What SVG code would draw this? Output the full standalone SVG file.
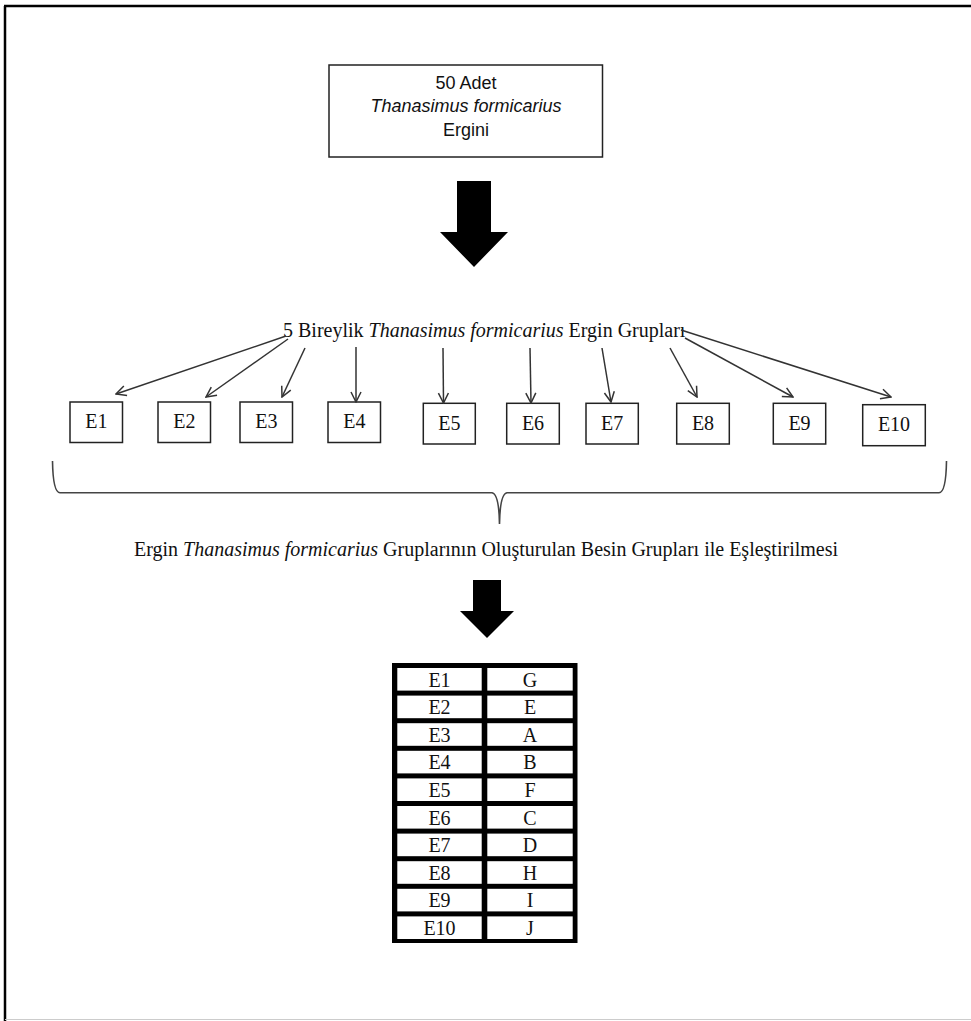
<svg xmlns="http://www.w3.org/2000/svg" width="971" height="1021" viewBox="0 0 971 1021">
<style>
.frame{fill:none;stroke:#000;stroke-width:2.5}
.box{fill:#fff;stroke:#222;stroke-width:1.5}
.sans{font-family:"Liberation Sans",Arial,sans-serif;font-size:18px;fill:#111;text-anchor:middle}
.serif{font-family:"Liberation Serif","Times New Roman",serif;font-size:20px;fill:#111}
.mid{text-anchor:middle}
.it{font-style:italic}
.conn{stroke:#333;stroke-width:1.5;fill:none;marker-end:url(#ah)}
.brace{stroke:#444;stroke-width:1.6;fill:none}
.cell{fill:#fff}
</style>
<defs>
<marker id="ah" viewBox="0 0 12 12" refX="11" refY="6" markerWidth="12" markerHeight="12" markerUnits="userSpaceOnUse" orient="auto">
<path d="M1,1 L11,6 L1,11" fill="none" stroke="#333" stroke-width="1.5"/>
</marker>
</defs>
<rect width="971" height="1021" fill="#fff"/>
<g id="frame">
<line x1="4" y1="6" x2="971" y2="6" class="frame"/>
<line x1="5" y1="6" x2="5" y2="1021" class="frame"/>
<line x1="5" y1="1019.5" x2="971" y2="1019.5" stroke="#ccc" stroke-width="1"/>
</g>
<g id="start">
<rect x="329" y="65" width="273.5" height="92" class="box"/>
<text x="466" y="89" class="sans">50 Adet</text>
<text x="466" y="112" class="sans" font-style="italic">Thanasimus formicarius</text>
<text x="466" y="136" class="sans">Ergini</text>
</g>
<g id="bigarrow1">
<polygon points="457,181 491,181 491,232 508,232 474,267 440,232 457,232" fill="#000"/>
</g>
<g id="groups">
<text x="283" y="337" class="serif">5 Bireylik <tspan class="it">Thanasimus formicarius</tspan> Ergin Grupları</text>
</g>
<g id="E1"><rect x="70" y="402" width="52.5" height="40.5" class="box"/><text x="96.3" y="428" class="serif mid">E1</text></g>
<g id="E2"><rect x="158" y="402" width="52.5" height="40.5" class="box"/><text x="184.3" y="428" class="serif mid">E2</text></g>
<g id="E3"><rect x="240" y="402" width="52.5" height="40.5" class="box"/><text x="266.3" y="428" class="serif mid">E3</text></g>
<g id="E4"><rect x="328" y="402" width="52.5" height="40.5" class="box"/><text x="354.3" y="428" class="serif mid">E4</text></g>
<g id="E5"><rect x="423.3" y="403.3" width="52" height="40.7" class="box"/><text x="449.3" y="430" class="serif mid">E5</text></g>
<g id="E6"><rect x="506.7" y="403.3" width="52.6" height="40.7" class="box"/><text x="533" y="430" class="serif mid">E6</text></g>
<g id="E7"><rect x="586" y="403.3" width="52.3" height="40.7" class="box"/><text x="612.2" y="430" class="serif mid">E7</text></g>
<g id="E8"><rect x="676.7" y="403.3" width="52.6" height="40.7" class="box"/><text x="703" y="430" class="serif mid">E8</text></g>
<g id="E9"><rect x="773.3" y="403.3" width="52.4" height="40.7" class="box"/><text x="799.5" y="430" class="serif mid">E9</text></g>
<g id="E10"><rect x="862.7" y="404.7" width="62.6" height="41" class="box"/><text x="894" y="431" class="serif mid">E10</text></g>
<g id="connectors">
<line x1="286" y1="336" x2="116" y2="394" class="conn"/>
<line x1="288" y1="339" x2="206" y2="397" class="conn"/>
<line x1="305" y1="348" x2="282" y2="397" class="conn"/>
<line x1="356" y1="347" x2="356" y2="402" class="conn"/>
<line x1="443" y1="348" x2="443.5" y2="403" class="conn"/>
<line x1="530" y1="348" x2="531" y2="403" class="conn"/>
<line x1="602" y1="348" x2="611" y2="402" class="conn"/>
<line x1="670" y1="348" x2="697" y2="397" class="conn"/>
<line x1="685" y1="338" x2="793" y2="397" class="conn"/>
<line x1="681" y1="330" x2="891" y2="397" class="conn"/>
</g>
<g id="brace">
<path d="M52.5,461 Q53,492.7 60,492.7 L492,492.7 Q499,494 499.5,524 Q500,494 507,492.7 L939,492.7 Q946,492.7 946.5,461" class="brace"/>
</g>
<g id="matching">
<text x="486" y="556" class="serif mid" font-size="20.3">Ergin <tspan class="it">Thanasimus formicarius</tspan> Gruplarının Oluşturulan Besin Grupları ile Eşleştirilmesi</text>
</g>
<g id="bigarrow2">
<polygon points="473,580 501,580 501,611 514,611 487,638 460,611 473,611" fill="#000"/>
</g>
<g id="table">
<rect x="392" y="663" width="185.5" height="280" fill="#000"/>
<g class="cell">
<rect x="397.3" y="668" width="84.4" height="22.6"/><rect x="487.3" y="668" width="85.4" height="22.6"/>
<rect x="397.3" y="695.6" width="84.4" height="22.6"/><rect x="487.3" y="695.6" width="85.4" height="22.6"/>
<rect x="397.3" y="723.2" width="84.4" height="22.6"/><rect x="487.3" y="723.2" width="85.4" height="22.6"/>
<rect x="397.3" y="750.8" width="84.4" height="22.6"/><rect x="487.3" y="750.8" width="85.4" height="22.6"/>
<rect x="397.3" y="778.4" width="84.4" height="22.6"/><rect x="487.3" y="778.4" width="85.4" height="22.6"/>
<rect x="397.3" y="806" width="84.4" height="22.6"/><rect x="487.3" y="806" width="85.4" height="22.6"/>
<rect x="397.3" y="833.6" width="84.4" height="22.6"/><rect x="487.3" y="833.6" width="85.4" height="22.6"/>
<rect x="397.3" y="861.2" width="84.4" height="22.6"/><rect x="487.3" y="861.2" width="85.4" height="22.6"/>
<rect x="397.3" y="888.8" width="84.4" height="22.6"/><rect x="487.3" y="888.8" width="85.4" height="22.6"/>
<rect x="397.3" y="916.4" width="84.4" height="22.6"/><rect x="487.3" y="916.4" width="85.4" height="22.6"/>
</g>
<g class="serif mid">
<text x="439.5" y="686.5">E1</text><text x="530" y="686.5">G</text>
<text x="439.5" y="714.1">E2</text><text x="530" y="714.1">E</text>
<text x="439.5" y="741.7">E3</text><text x="530" y="741.7">A</text>
<text x="439.5" y="769.3">E4</text><text x="530" y="769.3">B</text>
<text x="439.5" y="796.9">E5</text><text x="530" y="796.9">F</text>
<text x="439.5" y="824.5">E6</text><text x="530" y="824.5">C</text>
<text x="439.5" y="852.1">E7</text><text x="530" y="852.1">D</text>
<text x="439.5" y="879.7">E8</text><text x="530" y="879.7">H</text>
<text x="439.5" y="907.3">E9</text><text x="530" y="907.3">I</text>
<text x="439.5" y="934.9">E10</text><text x="530" y="934.9">J</text>
</g>
</g>
</svg>
